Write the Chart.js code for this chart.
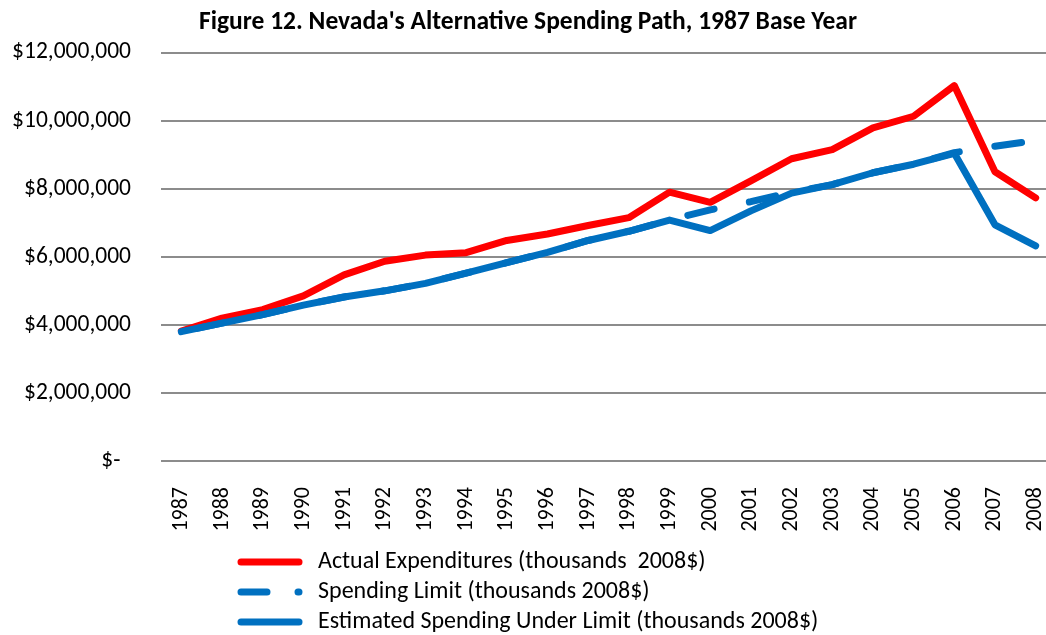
<!DOCTYPE html>
<html>
<head>
<meta charset="utf-8">
<script src="https://cdn.jsdelivr.net/npm/chart.js@4.4.1/dist/chart.umd.min.js"></script>
<style>
    html, body { margin: 0; padding: 0; background: #fff; overflow: hidden; }
    #wrap { width: 1056px; height: 635px; position: relative; }
</style>
</head>
<body>
<div id="wrap"><canvas id="chart"></canvas></div>
<script>
const years = ['1987', '1988', '1989', '1990', '1991', '1992', '1993', '1994', '1995', '1996', '1997',
    '1998', '1999', '2000', '2001', '2002', '2003', '2004', '2005', '2006', '2007', '2008'];

const actualExp = [3820000, 4200000, 4450000, 4850000, 5470000, 5870000, 6050000, 6120000, 6480000, 6670000, 6920000,
    7150000, 7900000, 7600000, 8230000, 8880000, 9150000, 9790000, 10130000, 11030000, 8500000, 7730000];

const spendingLimit = [3800000, 4050000, 4300000, 4580000, 4820000, 5000000, 5220000, 5520000, 5830000, 6130000, 6480000,
    6750000, 7080000, 7380000, 7620000, 7900000, 8120000, 8470000, 8720000, 9060000, 9250000, 9420000];

const underLimit = [3800000, 4050000, 4300000, 4580000, 4820000, 5000000, 5220000, 5520000, 5830000, 6130000, 6480000,
    6750000, 7080000, 6770000, 7350000, 7870000, 8120000, 8470000, 8720000, 9040000, 6940000, 6320000];

const yTicks = [0, 2000000, 4000000, 6000000, 8000000, 10000000, 12000000];

const FONT = 'Carlito, "Liberation Sans Narrow", sans-serif';

// legend drawn as stacked rows under the axis, like the excel one
const rowLegend = {
    id: 'rowLegend',
    afterDraw(chart) {
        const ctx = chart.ctx;
        ctx.save();
        chart.data.datasets.forEach((ds, i) => {
            const y = 562 + i * 30;
            ctx.beginPath();
            ctx.lineWidth = 7;
            ctx.lineCap = 'round';
            ctx.strokeStyle = ds.borderColor;
            ctx.setLineDash(ds.borderDash && ds.borderDash.length ? [26, 31] : []);
            ctx.moveTo(241, y);
            ctx.lineTo(299, y);
            ctx.stroke();
            ctx.setLineDash([]);
            ctx.fillStyle = '#000';
            ctx.font = '24px ' + FONT;
            ctx.textAlign = 'left';
            ctx.textBaseline = 'middle';
            ctx.fillText(ds.label, 318, y);
        });
        ctx.restore();
    }
};

new Chart(document.getElementById('chart'), {
    type: 'line',
    data: {
        labels: years,
        datasets: [
            {
                label: 'Actual Expenditures (thousands  2008$)',
                data: actualExp,
                borderColor: '#ff0000',
                borderWidth: 7,
                order: 3
            },
            {
                label: 'Spending Limit (thousands 2008$)',
                data: spendingLimit,
                borderColor: '#0070c0',
                borderWidth: 7,
                borderDash: [27, 36],
                borderDashOffset: -16,
                borderCapStyle: 'round',
                order: 2
            },
            {
                label: 'Estimated Spending Under Limit (thousands 2008$)',
                data: underLimit,
                borderColor: '#0070c0',
                borderWidth: 7,
                order: 1
            }
        ]
    },
    options: {
        responsive: true,
        maintainAspectRatio: false,
        animation: false,
        layout: { padding: { left: 0, right: 0, top: 0, bottom: 0 } },
        elements: {
            point: { radius: 0, hoverRadius: 0 },
            line: { tension: 0, borderJoinStyle: 'round', borderCapStyle: 'round', fill: false }
        },
        scales: {
            x: {
                type: 'category',
                offset: true,
                grid: { display: false, drawTicks: false },
                border: { display: false },
                ticks: {
                    autoSkip: false,
                    minRotation: 90,
                    maxRotation: 90,
                    padding: 26,
                    color: '#000',
                    font: { family: FONT, size: 22 }
                },
                afterFit(scale) {
                    scale.height = 174;
                    scale.paddingLeft = 0;
                    scale.paddingRight = 0;
                }
            },
            y: {
                min: 0,
                max: 12000000,
                afterBuildTicks(scale) {
                    scale.ticks = yTicks.map(v => ({ value: v }));
                },
                grid: { color: '#8c8c8c', lineWidth: 2, drawTicks: false },
                border: { display: false },
                ticks: {
                    padding: 30,
                    color: '#000',
                    font: { family: FONT, size: 23.5 },
                    callback: v => v === 0 ? '$-  ' : '$' + v.toLocaleString('en-US')
                },
                afterFit(scale) {
                    scale.width = 161;
                }
            }
        },
        plugins: {
            legend: { display: false },
            tooltip: { enabled: false },
            title: {
                display: true,
                text: "Figure 12. Nevada's Alternative Spending Path, 1987 Base Year",
                color: '#000',
                font: { family: FONT, size: 25.5, weight: 'bold' },
                padding: { top: 7, bottom: 15 }
            }
        }
    },
    plugins: [rowLegend]
});
</script>
</body>
</html>
